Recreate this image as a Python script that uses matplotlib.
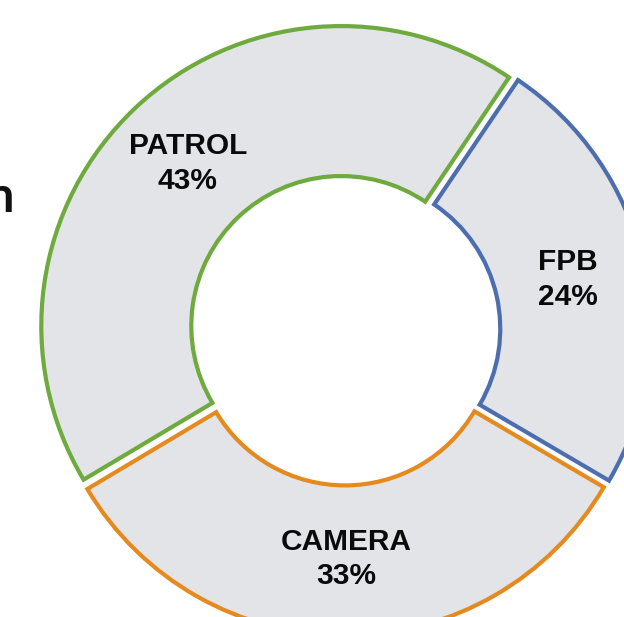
import matplotlib.pyplot as plt
import numpy as np

categories = ['FPB', 'CAMERA', 'PATROL']
shares = [24, 33, 43]
edge_colors = ['#4C6EAF', '#E58A1E', '#6FAA3F']
fill_color = '#E2E4E7'


def main():
    fig = plt.figure(figsize=(6.24, 6.17), dpi=100)
    ax = fig.add_axes([0, 0, 1, 1])

    wedges, _ = ax.pie(shares, startangle=56, counterclock=False,
                       explode=[0.018] * len(shares),
                       colors=[fill_color] * len(shares),
                       wedgeprops=dict(width=0.5, linewidth=3))
    for w, c in zip(wedges, edge_colors):
        w.set_edgecolor(c)
        w.set_joinstyle('miter')

    for w, name, pct in zip(wedges, categories, shares):
        theta = np.deg2rad((w.theta1 + w.theta2) / 2)
        cx, cy = w.center
        r = 0.745
        ax.text(cx + r * np.cos(theta), cy + r * np.sin(theta),
                '%s\n%d%%' % (name, pct), ha='center', va='center',
                fontsize=21.5, fontweight='bold', family='Liberation Sans',
                linespacing=1.3, color='#0a0a0a')

    # cropped title fragment at the left edge
    fig.text(15 / 624, 1 - 212 / 617, 'n', ha='right', va='baseline',
             fontsize=35, fontweight='bold', family='Lato', color='#111111')

    scale = 300.0
    ax.set_xlim(-345 / scale, (624 - 345) / scale)
    ax.set_ylim((330 - 617) / scale, 330 / scale)
    ax.set_aspect('auto')
    ax.axis('off')

    fig.savefig('out.png', dpi=100)


if __name__ == '__main__':
    main()
